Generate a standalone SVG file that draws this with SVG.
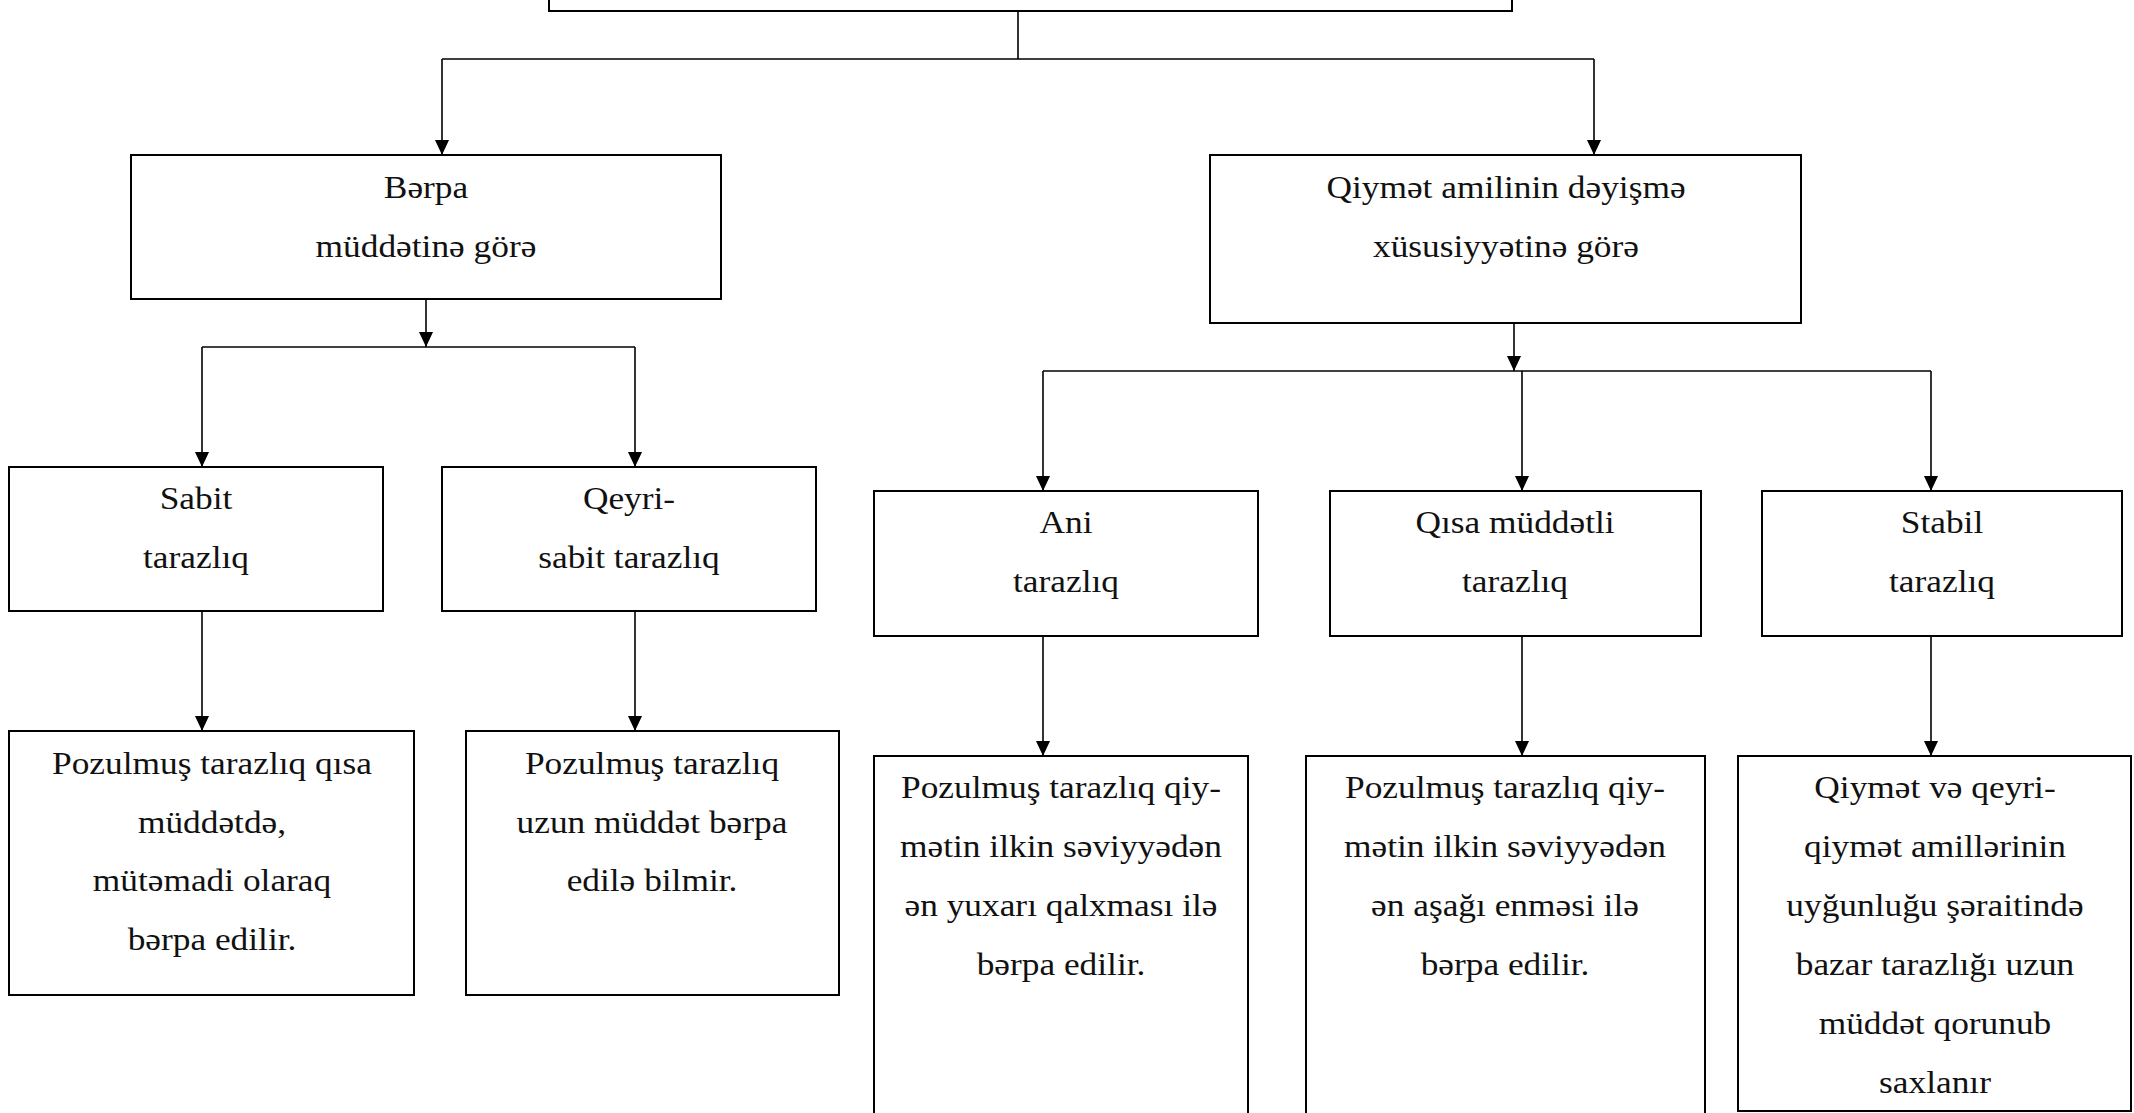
<svg xmlns="http://www.w3.org/2000/svg" width="2134" height="1113" viewBox="0 0 2134 1113">
<style>
.box{fill:#fff;stroke:#000;stroke-width:2}
.con{fill:none;stroke:#000;stroke-width:1.6}
.t{font-family:"Liberation Serif","Times New Roman",serif;font-size:31px;fill:#111;text-anchor:middle}
</style>
<defs>
<marker id="arr" markerUnits="userSpaceOnUse" markerWidth="16" markerHeight="16" refX="15" refY="7" orient="auto">
<path d="M0,0 L15,7 L0,14 z" fill="#000"/>
</marker>
</defs>
<rect x="0" y="0" width="2134" height="1113" fill="#fff"/>

<g id="connectors">
<path class="con" d="M1018,11 V59 M442,59 H1594"/>
<path class="con" d="M442,59 V155" marker-end="url(#arr)"/>
<path class="con" d="M1594,59 V155" marker-end="url(#arr)"/>
<path class="con" d="M426,299 V347" marker-end="url(#arr)"/>
<path class="con" d="M202,347 H635"/>
<path class="con" d="M202,347 V467" marker-end="url(#arr)"/>
<path class="con" d="M635,347 V467" marker-end="url(#arr)"/>
<path class="con" d="M202,611 V731" marker-end="url(#arr)"/>
<path class="con" d="M635,611 V731" marker-end="url(#arr)"/>
<path class="con" d="M1514,323 V371" marker-end="url(#arr)"/>
<path class="con" d="M1043,371 H1931"/>
<path class="con" d="M1043,371 V491" marker-end="url(#arr)"/>
<path class="con" d="M1522,371 V491" marker-end="url(#arr)"/>
<path class="con" d="M1931,371 V491" marker-end="url(#arr)"/>
<path class="con" d="M1043,636 V756" marker-end="url(#arr)"/>
<path class="con" d="M1522,636 V756" marker-end="url(#arr)"/>
<path class="con" d="M1931,636 V756" marker-end="url(#arr)"/>
</g>

<g id="top">
<rect class="box" x="549" y="-100" width="963" height="111"/>
</g>

<g id="berpa">
<rect class="box" x="131" y="155" width="590" height="144"/>
<g transform="translate(426 0) scale(1.14 1)">
<text class="t" x="0" y="198">Bərpa</text>
<text class="t" x="0" y="257">müddətinə görə</text>
</g>
</g>

<g id="qiymet">
<rect class="box" x="1210" y="155" width="591" height="168"/>
<g transform="translate(1506 0) scale(1.14 1)">
<text class="t" x="0" y="198">Qiymət amilinin dəyişmə</text>
<text class="t" x="0" y="257">xüsusiyyətinə görə</text>
</g>
</g>

<g id="sabit">
<rect class="box" x="9" y="467" width="374" height="144"/>
<g transform="translate(196 0) scale(1.14 1)">
<text class="t" x="0" y="509">Sabit</text>
<text class="t" x="0" y="568">tarazlıq</text>
</g>
</g>

<g id="qeyri">
<rect class="box" x="442" y="467" width="374" height="144"/>
<g transform="translate(629 0) scale(1.14 1)">
<text class="t" x="0" y="509">Qeyri-</text>
<text class="t" x="0" y="568">sabit tarazlıq</text>
</g>
</g>

<g id="sabit-desc">
<rect class="box" x="9" y="731" width="405" height="264"/>
<g transform="translate(212 0) scale(1.14 1)">
<text class="t" x="0" y="774">Pozulmuş tarazlıq qısa</text>
<text class="t" x="0" y="833">müddətdə,</text>
<text class="t" x="0" y="891">mütəmadi olaraq</text>
<text class="t" x="0" y="950">bərpa edilir.</text>
</g>
</g>

<g id="qeyri-desc">
<rect class="box" x="466" y="731" width="373" height="264"/>
<g transform="translate(652 0) scale(1.14 1)">
<text class="t" x="0" y="774">Pozulmuş tarazlıq</text>
<text class="t" x="0" y="833">uzun müddət bərpa</text>
<text class="t" x="0" y="891">edilə bilmir.</text>
</g>
</g>

<g id="ani">
<rect class="box" x="874" y="491" width="384" height="145"/>
<g transform="translate(1066 0) scale(1.14 1)">
<text class="t" x="0" y="533">Ani</text>
<text class="t" x="0" y="592">tarazlıq</text>
</g>
</g>

<g id="qisa">
<rect class="box" x="1330" y="491" width="371" height="145"/>
<g transform="translate(1515 0) scale(1.14 1)">
<text class="t" x="0" y="533">Qısa müddətli</text>
<text class="t" x="0" y="592">tarazlıq</text>
</g>
</g>

<g id="stabil">
<rect class="box" x="1762" y="491" width="360" height="145"/>
<g transform="translate(1942 0) scale(1.14 1)">
<text class="t" x="0" y="533">Stabil</text>
<text class="t" x="0" y="592">tarazlıq</text>
</g>
</g>

<g id="ani-desc">
<rect class="box" x="874" y="756" width="374" height="400"/>
<g transform="translate(1061 0) scale(1.14 1)">
<text class="t" x="0" y="798">Pozulmuş tarazlıq qiy-</text>
<text class="t" x="0" y="857">mətin ilkin səviyyədən</text>
<text class="t" x="0" y="916">ən yuxarı qalxması ilə</text>
<text class="t" x="0" y="975">bərpa edilir.</text>
</g>
</g>

<g id="qisa-desc">
<rect class="box" x="1306" y="756" width="399" height="400"/>
<g transform="translate(1505 0) scale(1.14 1)">
<text class="t" x="0" y="798">Pozulmuş tarazlıq qiy-</text>
<text class="t" x="0" y="857">mətin ilkin səviyyədən</text>
<text class="t" x="0" y="916">ən aşağı enməsi ilə</text>
<text class="t" x="0" y="975">bərpa edilir.</text>
</g>
</g>

<g id="stabil-desc">
<rect class="box" x="1738" y="756" width="393" height="355"/>
<g transform="translate(1935 0) scale(1.14 1)">
<text class="t" x="0" y="798">Qiymət və qeyri-</text>
<text class="t" x="0" y="857">qiymət amillərinin</text>
<text class="t" x="0" y="916">uyğunluğu şəraitində</text>
<text class="t" x="0" y="975">bazar tarazlığı uzun</text>
<text class="t" x="0" y="1034">müddət qorunub</text>
<text class="t" x="0" y="1093">saxlanır</text>
</g>
</g>
</svg>
